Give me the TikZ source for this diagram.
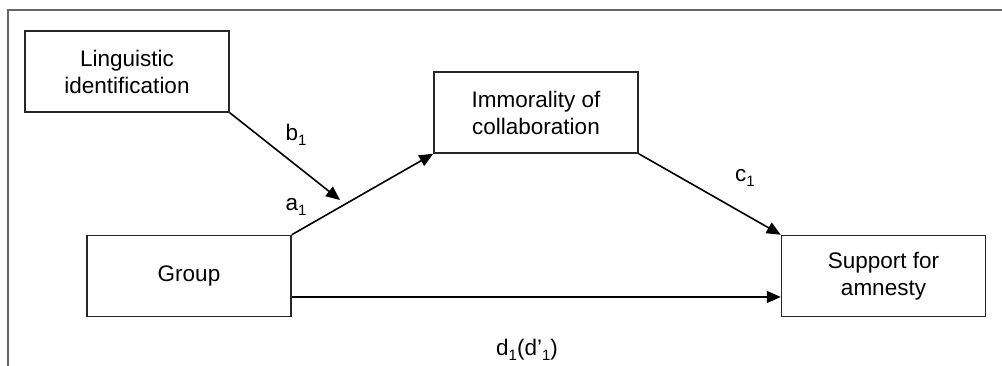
\documentclass[tikz,border=0pt]{standalone}
\usepackage{fontspec}
\setmainfont{Liberation Sans}
\usetikzlibrary{arrows.meta}
\newcommand\lbsub[1]{\raisebox{-0.45ex}{\fontsize{15}{15}\selectfont #1}}
\begin{document}
\begin{tikzpicture}[x=1pt,y=-1pt,
  box/.style={draw=black!85,line width=1.5pt,minimum width=204pt,minimum height=81pt,inner sep=0pt,align=center,font=\fontsize{22.5}{27}\selectfont},
  arr/.style={line width=1.6pt,-{Triangle[length=14pt,width=12pt]}},
  lbl/.style={font=\fontsize{22.5}{26}\selectfont,inner sep=0pt}]
\useasboundingbox (0,0) rectangle (1002,366);
\draw[line width=2pt,black!60] (8,366) -- (8,10) -- (1002,10);
\node[box] (ling) at (127,71.5) {Linguistic\\identification};
\node[box] (imm) at (536,112.5) {Immorality of\\collaboration};
\node[box] (group) at (189,276) {Group};
\node[box] (sup) at (883.5,276) {Support for\\amnesty};
\coordinate (tip) at (340,200);
\draw[arr] (ling.south east) -- (tip);
\draw[arr] (group.north east) -- (imm.south west);
\draw[arr] (imm.south east) -- (sup.north west);
\draw[arr] ([yshift=-21pt]group.east) -- ([yshift=-21pt]sup.west);
\node[lbl] (b) at (296,135) {b\lbsub{1}};
\node[lbl] (a) at (296,207) {a\lbsub{1}};
\node[lbl] (c) at (745,178) {c\lbsub{1}};
\node[lbl] (d) at (527,350) {d\lbsub{1}(d’\lbsub{1})};
\end{tikzpicture}
\end{document}
